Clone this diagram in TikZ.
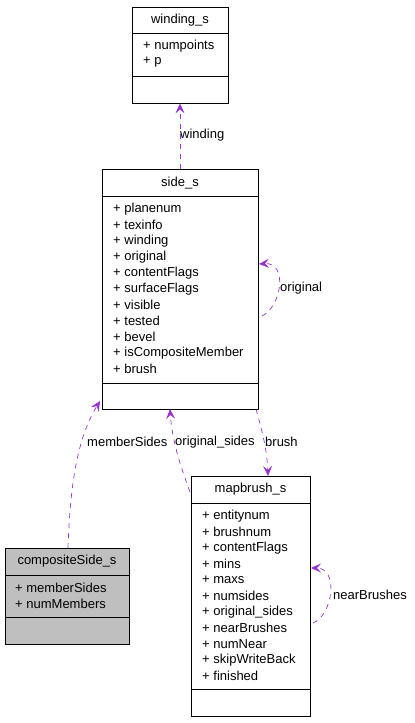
\documentclass[tikz,border=0pt]{standalone}
\usepackage{fontspec}
\setmainfont{Liberation Sans}
\usetikzlibrary{arrows.meta}
\definecolor{edgecol}{HTML}{9A32CD}
\definecolor{boxgray}{HTML}{BFBFBF}
\begin{document}
\begin{tikzpicture}[x=1pt,y=-1pt,
  umlbox/.style={draw=black,line width=0.8pt,inner sep=0pt},
  divline/.style={draw=black,line width=0.8pt},
  title/.style={font=\fontsize{13}{15}\selectfont,inner sep=0pt},
  attr/.style={font=\fontsize{13}{15}\selectfont,inner sep=0pt,anchor=west},
  lbl/.style={font=\fontsize{13}{15}\selectfont,inner sep=0pt,anchor=west},
  edge/.style={draw=edgecol,line width=0.7pt,dash pattern=on 5pt off 5pt,
    -{Stealth[length=10pt,width=9pt,inset=4pt,fill=edgecol]}}]
\useasboundingbox (0,0) rectangle (415,723);
% winding_s
\node[umlbox,minimum width=96pt,minimum height=96pt] (winding) at (180,55) {};
\draw[divline] (132,33) -- (228,33);
\draw[divline] (132,76) -- (228,76);
\node[title] (wt) at (180,20) {winding\_s};
\node[attr] (w1) at (143,46) {+ numpoints};
\node[attr] (w2) at (143,62) {+ p};
% side_s
\node[umlbox,minimum width=156pt,minimum height=240pt] (side) at (180,289) {};
\draw[divline] (102,196) -- (258,196);
\draw[divline] (102,383) -- (258,383);
\node[title] (st) at (180,183) {side\_s};
\foreach \t [count=\i] in {planenum,texinfo,winding,original,contentFlags,surfaceFlags,visible,tested,bevel,isCompositeMember,brush}
  \node[attr] (s\i) at (113,{193+16*\i}) {+ \t};
% compositeSide_s
\node[umlbox,fill=boxgray,minimum width=124pt,minimum height=96pt] (comp) at (67,596) {};
\draw[divline] (5,575) -- (129,575);
\draw[divline] (5,617) -- (129,617);
\node[title] (ct) at (67,561) {compositeSide\_s};
\node[attr] (c1) at (15,588) {+ memberSides};
\node[attr] (c2) at (15,604) {+ numMembers};
% mapbrush_s
\node[umlbox,minimum width=119pt,minimum height=240pt] (mapb) at (250.5,596) {};
\draw[divline] (191,503) -- (310,503);
\draw[divline] (191,689) -- (310,689);
\node[title] (mt) at (250.5,489) {mapbrush\_s};
\foreach \t [count=\i] in {entitynum,brushnum,contentFlags,mins,maxs,numsides,original\_sides,nearBrushes,numNear,skipWriteBack,finished}
  \node[attr] (m\i) at (202,{500+16*\i}) {+ \t};
% connector endpoints
\coordinate (o1) at (262,316);
\coordinate (o2) at (259,264);
\coordinate (ms1) at (68,548);
\coordinate (ms2) at (100,401);
\coordinate (os1) at (190,492);
\coordinate (os2) at (170,409);
\coordinate (b1) at (256,409);
\coordinate (b2) at (268,476);
\coordinate (n1) at (313,623);
\coordinate (n2) at (311,568);
% edges
\draw[edge] (side.north) -- (winding.south);
\node[lbl] (lw) at (180,135) {winding};
\draw[edge] (o1) .. controls (282,306) and (288,262) .. (o2);
\node[lbl] (lo) at (280,288) {original};
\draw[edge] (ms1) .. controls (70,490) and (76,440) .. (ms2);
\node[lbl] (lms) at (87,442) {memberSides};
\draw[edge] (os1) .. controls (180,465) and (172,440) .. (os2);
\node[lbl] (los) at (175,442) {original\_sides};
\draw[edge] (b1) .. controls (262,430) and (267,450) .. (b2);
\node[lbl] (lb) at (265,442) {brush};
\draw[edge] (n1) .. controls (333,615) and (339,568) .. (n2);
\node[lbl] (ln) at (333,595) {nearBrushes};
\end{tikzpicture}
\end{document}
